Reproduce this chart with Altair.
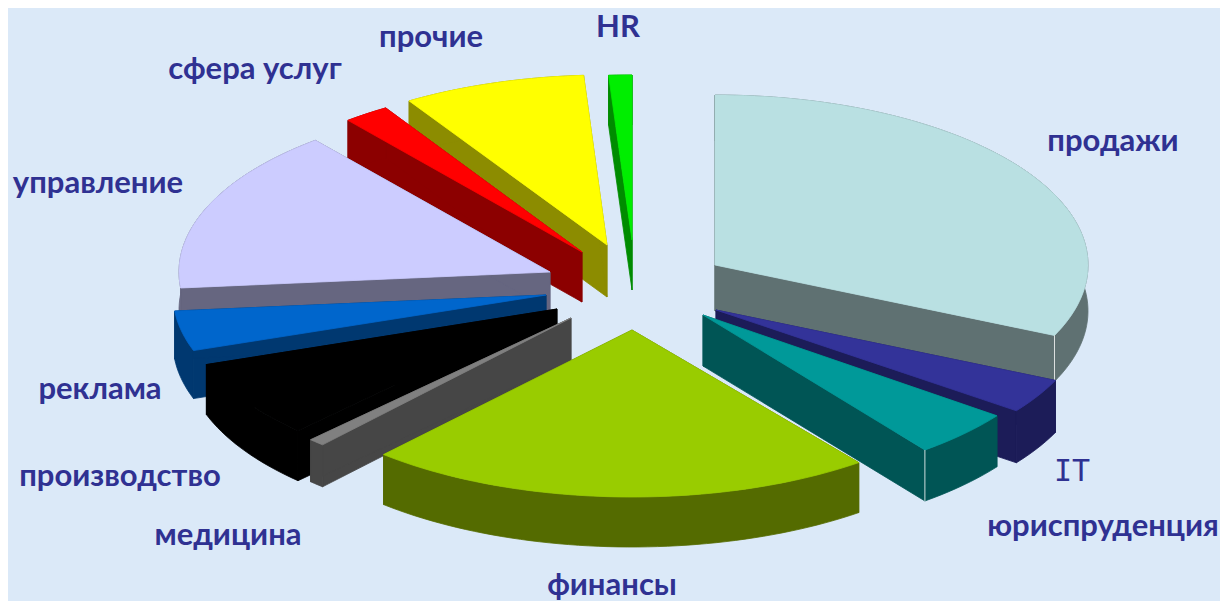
import math
import altair as alt

# --- chart values (percent share of each slice) ---
names = ["продажи", "IT", "юриспруденция", "финансы", "медицина", "производство",
         "реклама", "управление", "сфера услуг", "прочие", "HR"]
shares = [31.8, 3.3, 4.5, 22.0, 0.7, 7.4, 3.8, 15.6, 2.0, 7.9, 1.0]

# --- styling ---
top_colors = ["#b9e0e2", "#333399", "#009999", "#99cc00", "#808080", "#000000",
              "#0066cc", "#ccccff", "#ff0000", "#ffff00", "#00ee00"]
side_colors = ["#5f7172", "#1c1c58", "#005555", "#546b00", "#464646", "#000000",
               "#003870", "#666680", "#8c0000", "#8c8c00", "#008c00"]
# exploded position of each slice's tip, per slice (page pixels)
tip_x = [715, 716, 703, 632, 571, 557, 546, 550, 582, 607, 632]
tip_y = [265, 310, 315, 330, 318, 309, 295, 272, 252, 245, 240]
depths = [46, 52, 51, 50, 42, 50, 48, 38, 50, 52, 50]
radius_x = [373, 373, 365, 373, 373, 371, 373, 371, 370, 373, 373]
radius_y = [170, 170, 170, 167, 170, 170, 170, 170, 170, 170, 165]
# painter's order: back to front
draw_order = [10, 9, 8, 7, 6, 5, 4, 0, 1, 2, 3]

label_x = [1113, 1072, 1103, 612, 228, 120, 100, 98, 255, 431, 618]
label_y = [142, 472, 527, 586, 536, 477, 390, 184, 70, 38, 28]
white_edge_slices = [0, 2]

W, H = 1212, 593
M = 8  # page margin


def rim(i, a0, a1):
    pts = []
    n = max(3, int((a1 - a0) / 1.5))
    for k in range(n + 1):
        a = math.radians(a0 + (a1 - a0) * k / n)
        pts.append((tip_x[i] - M + radius_x[i] * math.sin(a),
                    tip_y[i] - M - radius_y[i] * math.cos(a)))
    return pts


def feature(coords, fill, kind="Polygon", stroke=None):
    geom = [list(p) for p in coords]
    if kind == "Polygon":
        geom = [geom + [geom[0]]]
    return {"type": "Feature",
            "geometry": {"type": kind, "coordinates": geom},
            "properties": {"fill": fill, "stroke": stroke or fill}}


cum = [0.0]
for s in shares:
    cum.append(cum[-1] + s)

features = []
for i in draw_order:
    a0, a1 = cum[i] * 3.6, cum[i + 1] * 3.6
    tip = (tip_x[i] - M, tip_y[i] - M)
    arc = rim(i, a0, a1)
    d = depths[i]
    down = lambda p: (p[0], p[1] + d)
    # extruded sides: two cut faces and the curved rim, swept down by the depth
    features.append(feature([tip, arc[0], down(arc[0]), down(tip)], side_colors[i]))
    features.append(feature([tip, arc[-1], down(arc[-1]), down(tip)], side_colors[i]))
    features.append(feature(arc + [down(p) for p in reversed(arc)], side_colors[i]))
    features.append(feature([tip] + arc, top_colors[i]))
    if i in white_edge_slices:
        corner = arc[-1]
        features.append(feature([corner, down(corner)], "none", "LineString", "#ffffff"))

base = (
    alt.Chart(alt.Data(values=features))
    .mark_geoshape(strokeWidth=0.8)
    .encode(
        fill=alt.Color("properties.fill:N", scale=None),
        stroke=alt.Color("properties.stroke:N", scale=None),
    )
    .project(type="identity", scale=1, translate=[0, 0])
)

rows = [{"name": n, "px": x - M, "py": y - M} for n, x, y in zip(names, label_x, label_y)]
pos = dict(x=alt.X("px:Q", scale=None, axis=None), y=alt.Y("py:Q", scale=None, axis=None))
labels = (
    alt.Chart(alt.Data(values=[r for r in rows if r["name"] != "IT"]))
    .mark_text(font="Lato", fontSize=31, fontWeight="bold", color="#2f3192", align="center", baseline="middle")
    .encode(text="name:N", **pos)
)
it_label = (
    alt.Chart(alt.Data(values=[r for r in rows if r["name"] == "IT"]))
    .mark_text(font="DejaVu Sans Mono", fontSize=30, color="#2f3192", align="center", baseline="middle")
    .encode(text="name:N", **pos)
)

chart = (
    alt.layer(base, labels, it_label)
    .properties(width=W, height=H, background="#dbe9f8", padding=0,
                autosize=alt.AutoSizeParams(type="none"))
    .configure_view(stroke=None)
)
chart.save("out.html", embed_options={"renderer": "svg", "actions": False})
